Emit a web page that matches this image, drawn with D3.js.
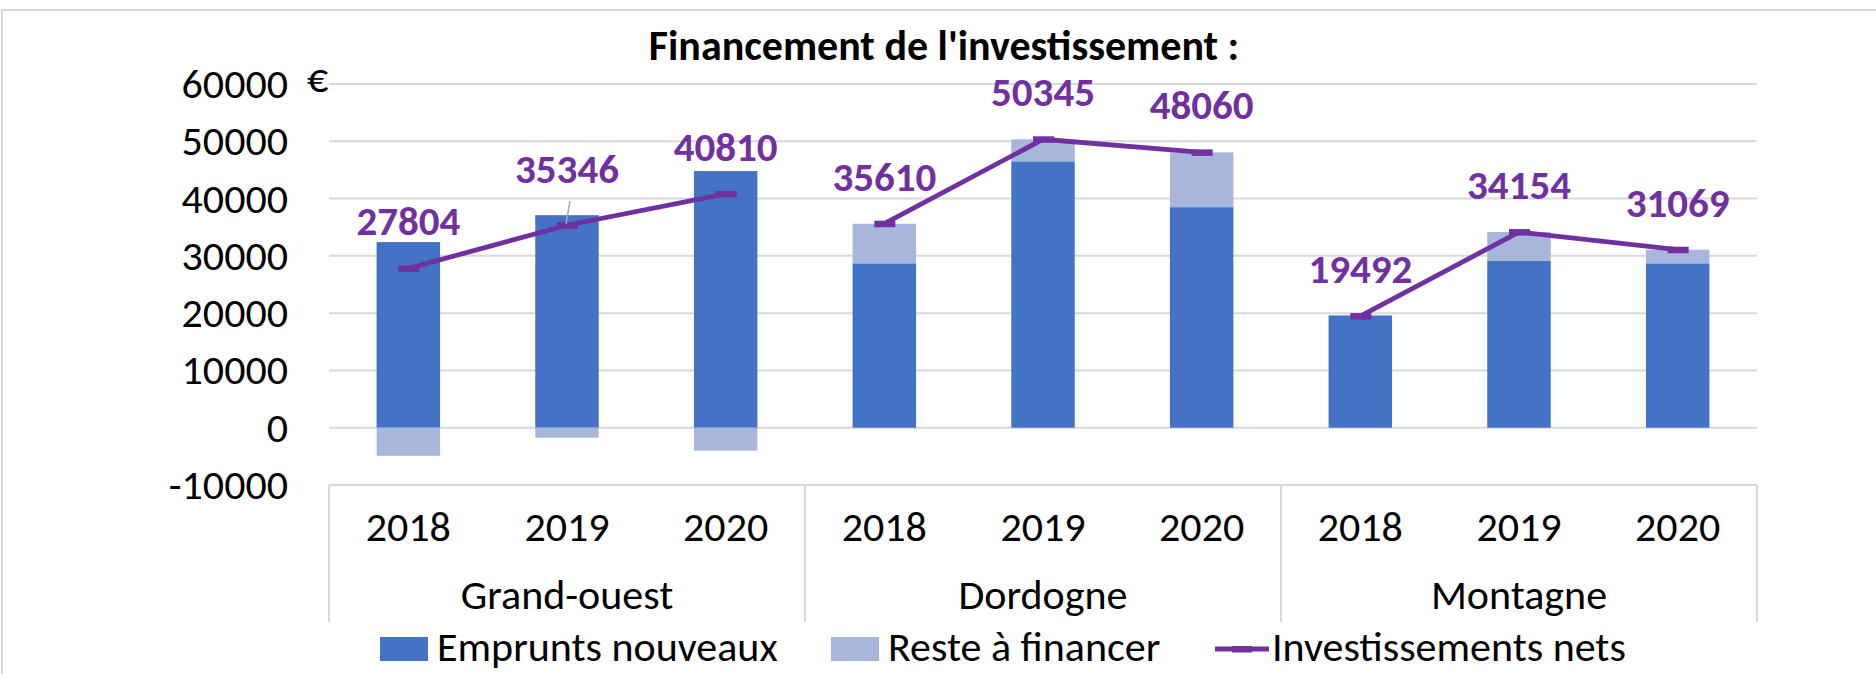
<!DOCTYPE html>
<html>
<head>
<meta charset="utf-8">
<script src="https://cdn.jsdelivr.net/npm/d3@7"></script>
<style>
  body { margin: 0; background: #fff; }
  svg text { font-family: Carlito, Calibri, Lato, sans-serif; }
</style>
</head>
<body>
<div id="chart"></div>
<script>
// data
var regions = ["Grand-ouest", "Dordogne", "Montagne"];
var years = ["2018", "2019", "2020"];
var emprunts = [32400, 37100, 44800, 28700, 46500, 38500, 19600, 29100, 28700];
var reste = [-4900, -1750, -4000, 6900, 3845, 9560, 0, 5054, 2369];
var invest = [27804, 35346, 40810, 35610, 50345, 48060, 19492, 34154, 31069];
var yTicks = [-10000, 0, 10000, 20000, 30000, 40000, 50000, 60000];

var W = 1876, H = 674;
var blue = "#4472C4", light = "#A9B6DB", purple = "#7030A0", grid = "#D9D9D9";
var fs = 42;

var cats = [];
regions.forEach(function(r) {
    years.forEach(function(y) { cats.push(r + "|" + y); });
});

var svg = d3.select("#chart").append("svg")
    .attr("width", W)
    .attr("height", H);

// outer frame (cropped at right and bottom)
svg.append("path")
    .attr("d", "M2," + H + "V10H" + W)
    .attr("fill", "none")
    .attr("stroke", grid)
    .attr("stroke-width", 2);

var x = d3.scaleBand().domain(cats).range([329, 1757]).paddingInner(0.6).paddingOuter(0.3);
var y = d3.scaleLinear().domain([-10000, 60000]).range([485, 84]);

// gridlines
svg.append("g").selectAll("line")
    .data(yTicks.slice(1))
    .join("line")
    .attr("x1", 329).attr("x2", 1757)
    .attr("y1", function(d) { return y(d); })
    .attr("y2", function(d) { return y(d); })
    .attr("stroke", grid)
    .attr("stroke-width", 2);

// y axis labels
var yAxis = d3.axisLeft(y).tickValues(yTicks).tickSize(0).tickPadding(0)
    .tickFormat(function(d) { return String(d); });
var gy = svg.append("g").attr("transform", "translate(288,0)").call(yAxis);
gy.select(".domain").remove();
gy.selectAll("text").attr("font-size", fs).attr("fill", "#000").attr("font-family", null);

svg.append("text")
    .attr("x", 307).attr("y", 92)
    .attr("font-size", fs)
    .text("€");

// category axis (bottom line + group separators)
svg.append("line")
    .attr("x1", 329).attr("x2", 1757)
    .attr("y1", y(-10000)).attr("y2", y(-10000))
    .attr("stroke", grid).attr("stroke-width", 2);

var step = x.step();
var seps = d3.range(0, cats.length + 1, years.length);
svg.append("g").selectAll("line")
    .data(seps)
    .join("line")
    .attr("x1", function(i) { return 329 + i * step; })
    .attr("x2", function(i) { return 329 + i * step; })
    .attr("y1", y(-10000)).attr("y2", 622)
    .attr("stroke", grid).attr("stroke-width", 2);

svg.append("g").selectAll("text")
    .data(cats)
    .join("text")
    .attr("x", function(d) { return x(d) + x.bandwidth() / 2; })
    .attr("y", 541)
    .attr("text-anchor", "middle")
    .attr("font-size", fs)
    .text(function(d) { return d.split("|")[1]; });

svg.append("g").selectAll("text")
    .data(regions)
    .join("text")
    .attr("x", function(d, i) { return 329 + (i * 3 + 1.5) * step; })
    .attr("y", 609)
    .attr("text-anchor", "middle")
    .attr("font-size", fs)
    .text(function(d) { return d; });

// stacked bars
svg.append("g").selectAll("rect")
    .data(emprunts)
    .join("rect")
    .attr("x", function(d, i) { return x(cats[i]); })
    .attr("width", x.bandwidth())
    .attr("y", function(d) { return y(d); })
    .attr("height", function(d) { return y(0) - y(d); })
    .attr("fill", blue);

svg.append("g").selectAll("rect")
    .data(reste)
    .join("rect")
    .attr("x", function(d, i) { return x(cats[i]); })
    .attr("width", x.bandwidth())
    .attr("y", function(d, i) { return d >= 0 ? y(emprunts[i] + d) : y(0); })
    .attr("height", function(d, i) { return Math.abs(y(0) - y(d)); })
    .attr("fill", light);

// line, one piece per region (no segment between groups)
var pts = invest.map(function(v, i) {
    return {v: v, cx: x(cats[i]) + x.bandwidth() / 2, g: Math.floor(i / years.length)};
});
var line = d3.line()
    .x(function(d) { return d.cx; })
    .y(function(d) { return y(d.v); })
    .curve(d3.curveLinear);

svg.append("g").selectAll("path")
    .data(d3.groups(pts, function(d) { return d.g; }))
    .join("path")
    .attr("d", function(d) { return line(d[1]); })
    .attr("fill", "none")
    .attr("stroke", purple)
    .attr("stroke-width", 4.8);

svg.append("g").selectAll("rect")
    .data(pts)
    .join("rect")
    .attr("x", function(d) { return d.cx - 10; })
    .attr("y", function(d) { return y(d.v) - 3; })
    .attr("width", 21).attr("height", 6.5)
    .attr("fill", purple);

// labels (the 2nd one was dragged up with a leader line)
var nudge = {1: -9};
svg.append("line")
    .attr("x1", pts[1].cx + 3).attr("y1", y(invest[1]) - 24)
    .attr("x2", pts[1].cx - 1).attr("y2", y(invest[1]) - 1)
    .attr("stroke", "#A6A6A6").attr("stroke-width", 1.5);

svg.append("g").selectAll("text")
    .data(pts)
    .join("text")
    .attr("x", function(d) { return d.cx; })
    .attr("y", function(d, i) { return y(d.v) - 33 + (nudge[i] || 0); })
    .attr("text-anchor", "middle")
    .attr("font-size", 41)
    .attr("font-weight", "bold")
    .attr("fill", purple)
    .text(function(d) { return d.v; });

// title
svg.append("text")
    .attr("x", 944).attr("y", 60)
    .attr("text-anchor", "middle")
    .attr("font-size", 42)
    .attr("font-weight", "bold")
    .text("Financement de l'investissement :");

// legend
var lg = svg.append("g");
lg.append("rect").attr("x", 380).attr("y", 637).attr("width", 48).attr("height", 24).attr("fill", blue);
lg.append("text").attr("x", 437).attr("y", 661).attr("font-size", fs).text("Emprunts nouveaux");
lg.append("rect").attr("x", 831).attr("y", 637).attr("width", 48).attr("height", 24).attr("fill", light);
lg.append("text").attr("x", 888).attr("y", 661).attr("font-size", fs).text("Reste à financer");
lg.append("line").attr("x1", 1215).attr("x2", 1269).attr("y1", 649).attr("y2", 649)
    .attr("stroke", purple).attr("stroke-width", 4.8);
lg.append("rect").attr("x", 1232).attr("y", 646).attr("width", 20).attr("height", 6.5).attr("fill", purple);
lg.append("text").attr("x", 1272).attr("y", 661).attr("font-size", fs).text("Investissements nets");
</script>
</body>
</html>
